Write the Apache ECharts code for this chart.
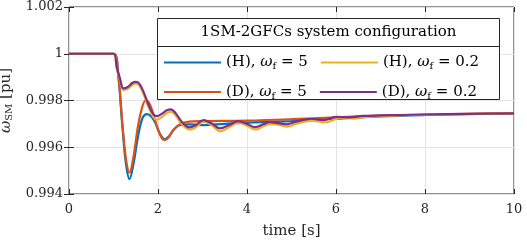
<!DOCTYPE html>
<html><head><meta charset="utf-8">
<script src="https://cdn.jsdelivr.net/npm/echarts@6/dist/echarts.min.js"></script>
<style>html,body{margin:0;padding:0;background:#fff}#c{width:527px;height:244px}</style>
</head><body><div id="c"></div>
<script>
const xTickValues = [0, 2, 4, 6, 8, 10];
const yTickValues = [0.994, 0.996, 0.998, 1, 1.002];
const yTickLabels = ['0.994', '0.996', '0.998', '1', '1.002'];

const tBlue = [0, 1.0, 1.1, 1.2, 1.28, 1.36, 1.45, 1.55, 1.65, 1.75, 1.85, 1.95, 2.05, 2.15, 2.25, 2.35, 2.5, 2.7, 3.0, 3.5, 4, 5, 6, 7, 8, 9, 10];
const vBlue = [1, 1, 0.99918, 0.99688, 0.99530, 0.99463, 0.99530, 0.99645, 0.99724, 0.99742, 0.99732, 0.99700, 0.99655, 0.99634, 0.99648, 0.99675, 0.99695, 0.99698, 0.99695, 0.99700, 0.99705, 0.99712, 0.99722, 0.99732, 0.99738, 0.99742, 0.99745];

const tOrange = [0, 1.0, 1.1, 1.2, 1.28, 1.36, 1.45, 1.55, 1.65, 1.72, 1.8, 1.9, 2.0, 2.1, 2.17, 2.25, 2.35, 2.5, 2.7, 3, 4, 5, 6, 7, 8, 9, 10];
const vOrange = [1, 1, 0.99925, 0.99700, 0.99550, 0.99491, 0.99560, 0.99690, 0.99775, 0.99800, 0.99790, 0.99740, 0.99675, 0.99635, 0.99631, 0.99645, 0.99675, 0.99700, 0.99710, 0.99712, 0.99714, 0.99720, 0.99728, 0.99735, 0.99740, 0.99743, 0.99746];

const tYellow = [0, 1.0, 1.07, 1.15, 1.22, 1.32, 1.42, 1.5, 1.58, 1.68, 1.8, 1.9, 1.97, 2.08, 2.2, 2.29, 2.4, 2.55, 2.72, 2.87, 3.03, 3.2, 3.4, 3.6, 3.8, 4.0, 4.2, 4.37, 4.55, 4.72, 4.9, 5.15, 5.45, 5.75, 6.1, 6.4, 6.7, 7.0, 7.5, 8, 9, 10];
const vYellow = [1, 1, 0.99940, 0.99885, 0.99845, 0.99850, 0.99866, 0.99872, 0.99864, 0.99825, 0.99765, 0.99728, 0.99718, 0.99728, 0.99746, 0.99752, 0.99735, 0.99695, 0.99675, 0.99688, 0.99710, 0.99695, 0.99668, 0.99686, 0.99705, 0.99692, 0.99676, 0.99690, 0.99700, 0.99696, 0.99688, 0.99703, 0.99714, 0.99706, 0.99726, 0.99722, 0.99730, 0.99734, 0.99737, 0.99739, 0.99743, 0.99745];

const tPurple = [0, 1.0, 1.07, 1.15, 1.22, 1.32, 1.42, 1.5, 1.58, 1.68, 1.8, 1.9, 1.98, 2.08, 2.2, 2.29, 2.4, 2.55, 2.7, 2.85, 3.02, 3.2, 3.39, 3.6, 3.8, 4.0, 4.18, 4.35, 4.52, 4.7, 4.89, 5.15, 5.45, 5.72, 6.0, 6.3, 6.6, 7.0, 7.5, 8, 9, 10];
const vPurple = [1, 1, 0.99945, 0.99891, 0.99852, 0.99858, 0.99875, 0.99880, 0.99872, 0.99835, 0.99775, 0.99740, 0.99733, 0.99742, 0.99758, 0.99762, 0.99745, 0.99705, 0.99685, 0.99695, 0.99716, 0.99703, 0.99681, 0.99695, 0.99712, 0.99700, 0.99686, 0.99697, 0.99707, 0.99703, 0.99698, 0.99712, 0.99722, 0.99716, 0.99730, 0.99728, 0.99734, 0.99736, 0.99738, 0.99740, 0.99743, 0.99745];

const seriesNames = ['(H), {i|ω}{s|f} = 5', '(D), {i|ω}{s|f} = 5', '(H), {i|ω}{s|f} = 0.2', '(D), {i|ω}{s|f} = 0.2'];
const ids = ['H5', 'D5', 'H02', 'D02'];
const legendOrder = ['H5', 'H02', 'D5', 'D02'];
const colors = ['#0072BD', '#D95319', '#EDB120', '#7E2F8E'];
const legendTitle = '1SM-2GFCs system configuration';

const FONT = 'DejaVu Serif';
const zip = (t, v) => t.map((x, i) => [x, v[i]]);
const datas = [zip(tBlue, vBlue), zip(tOrange, vOrange), zip(tYellow, vYellow), zip(tPurple, vPurple)];

const nameMap = {};
ids.forEach((id, k) => nameMap[id] = seriesNames[k]);

const chart = echarts.init(document.getElementById('c'), null, { renderer: 'canvas' });
chart.setOption({
  backgroundColor: '#fff',
  animation: false,
  grid: { left: 69, right: 13, top: 7, bottom: 50, show: true, borderColor: '#262626', borderWidth: 1, containLabel: false, outerBoundsMode: 'none' },
  xAxis: [{
    type: 'value', min: 0, max: 10, interval: 2,
    axisLine: { show: false },
    axisTick: { show: true, inside: true, length: 5, lineStyle: { color: '#262626' } },
    axisLabel: { fontFamily: FONT, fontSize: 13, color: '#262626', margin: 9 },
    splitLine: { show: true, lineStyle: { color: '#e3e3e3', width: 1 } },
    name: 'time [s]', nameLocation: 'middle', nameGap: 30,
    nameTextStyle: { fontFamily: FONT, fontSize: 15, color: '#262626' }
  }, {
    type: 'value', min: 0, max: 10, interval: 2, position: 'top',
    axisLine: { show: false },
    axisTick: { show: true, inside: true, length: 5, lineStyle: { color: '#262626' } },
    axisLabel: { show: false }, splitLine: { show: false }
  }],
  yAxis: [{
    type: 'value', min: 0.994, max: 1.002, interval: 0.002,
    axisLine: { show: false },
    axisTick: { show: true, inside: true, length: 5, lineStyle: { color: '#262626' } },
    axisLabel: {
      fontFamily: FONT, fontSize: 13, color: '#262626', margin: 6,
      formatter: v => { const k = yTickValues.findIndex(y => Math.abs(y - v) < 1e-9); return k >= 0 ? yTickLabels[k] : ''; }
    },
    splitLine: { show: true, lineStyle: { color: '#e3e3e3', width: 1 } },
    name: '{i|ω}{s|SM} [pu]', nameLocation: 'middle', nameGap: 50, nameRotate: 90,
    nameTextStyle: {
      fontFamily: FONT, fontSize: 15, color: '#262626',
      rich: {
        i: { fontFamily: FONT, fontSize: 15, fontStyle: 'italic', color: '#262626' },
        s: { fontFamily: FONT, fontSize: 10, color: '#262626', padding: [8, 0, 0, 0] }
      }
    }
  }, {
    type: 'value', min: 0.994, max: 1.002, interval: 0.002, position: 'right',
    axisLine: { show: false },
    axisTick: { show: true, inside: true, length: 5, lineStyle: { color: '#262626' } },
    axisLabel: { show: false }, splitLine: { show: false }
  }],
  legend: {
    data: legendOrder, orient: 'horizontal', left: 164, top: 55, width: 340,
    icon: 'rect', itemWidth: 57, itemHeight: 2.2, itemGap: 13, z: 20, padding: 0,
    formatter: n => nameMap[n],
    textStyle: {
      fontFamily: FONT, fontSize: 15, color: '#000', lineHeight: 12,
      rich: {
        i: { fontFamily: FONT, fontSize: 15, fontStyle: 'italic', color: '#000' },
        s: { fontFamily: FONT, fontSize: 10, color: '#000', padding: [8, 0, 0, 0] }
      }
    }
  },
  graphic: [
    { type: 'rect', z: 10, shape: { x: 157.5, y: 18.5, width: 342, height: 81 }, style: { fill: '#fff', stroke: '#262626', lineWidth: 1 } },
    { type: 'line', z: 11, shape: { x1: 157.5, y1: 46.5, x2: 499.5, y2: 46.5 }, style: { stroke: '#262626', lineWidth: 1 } },
    { type: 'text', z: 11, style: { text: legendTitle, x: 328.5, y: 32.5, align: 'center', verticalAlign: 'middle', fontFamily: FONT, fontSize: 15, fill: '#000' } }
  ],
  series: ids.map((id, k) => ({
    name: id, type: 'line', data: datas[k], smooth: 0.35, showSymbol: false, symbol: 'none',
    lineStyle: { color: colors[k], width: 2.2 }, itemStyle: { color: colors[k] }, z: 2
  }))
});
</script></body></html>
